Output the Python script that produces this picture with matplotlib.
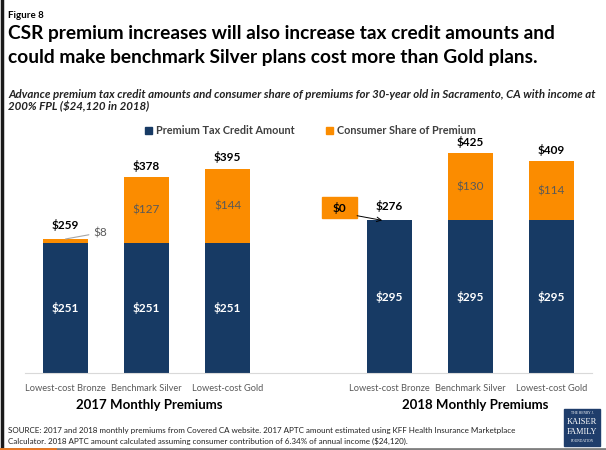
import matplotlib
matplotlib.use("Agg")
import matplotlib.pyplot as plt
from matplotlib.patches import Rectangle
from matplotlib.lines import Line2D

plt.rcParams['font.family'] = ['Lato', 'DejaVu Sans']

categories = ["Lowest-cost Bronze", "Benchmark Silver", "Lowest-cost Gold"]
years = ["2017 Monthly Premiums", "2018 Monthly Premiums"]
tax_credit_2017 = [251, 251, 251]
consumer_2017 = [8, 127, 144]
tax_credit_2018 = [295, 295, 295]
consumer_2018 = [0, 130, 114]
totals_2017 = [259, 378, 395]
totals_2018 = [276, 425, 409]

NAVY = "#173a64"
ORANGE = "#fb8c00"
W, H = 606, 450

fig = plt.figure(figsize=(6.06, 4.5), dpi=100)

def fx(px):
    return px / W

def fy(py):
    return 1 - py / H

# axes: x from px 25 to 592, y baseline px 373, top px 135
ax = fig.add_axes([fx(25), fy(373), fx(592) - fx(25), (373 - 135) / H])
ax.set_xlim(-0.5, 6.5)
ax.set_ylim(0, 460)

pos17 = [0, 1, 2]
pos18 = [4, 5, 6]
bw = 0.556
ax.bar(pos17, tax_credit_2017, width=bw, color=NAVY)
ax.bar(pos17, consumer_2017, width=bw, bottom=tax_credit_2017, color=ORANGE)
ax.bar(pos18, tax_credit_2018, width=bw, color=NAVY)
ax.bar(pos18, consumer_2018, width=bw, bottom=tax_credit_2018, color=ORANGE)

for spine in ["top", "right", "left"]:
    ax.spines[spine].set_visible(False)
ax.spines["bottom"].set_color("#d9d9d9")
ax.set_yticks([])
ax.set_xticks(pos17 + pos18)
ax.set_xticklabels(categories + categories, fontsize=6.7, color="#595959")
ax.tick_params(axis="x", length=0, pad=8)

for p, tc, cs, tot in zip(pos17 + pos18, tax_credit_2017 + tax_credit_2018,
                          consumer_2017 + consumer_2018, totals_2017 + totals_2018):
    ax.text(p, tc / 2, f"${tc}", ha="center", va="center", color="white",
            fontsize=8.5, fontweight="bold")
    if cs >= 50:
        ax.text(p, tc + cs / 2, f"${cs}", ha="center", va="center", color="#595959",
                fontsize=8.5)
    top = max(tot, tc)
    off = 28 if top == tc + cs and cs < 50 or tot < tc else 22
    ax.text(p, top + off, f"${tot}", ha="center", va="center", color="black",
            fontsize=8.5, fontweight="bold")

# $8 callout
ax.annotate(f"${consumer_2017[0]}", xy=(pos17[0], totals_2017[0]),
            xytext=(pos17[0] + 0.34, totals_2017[0] + 12), fontsize=8.5, color="#595959",
            va="center", ha="left",
            arrowprops=dict(arrowstyle="-", color="#a6a6a6", lw=0.8, shrinkA=1, shrinkB=0))

# $0 callout box
b0 = pos18[0]
t0 = tax_credit_2018[0]
ax.add_patch(Rectangle((b0 - 0.833, t0 + 4), 0.433, 41, color=ORANGE, clip_on=False))
ax.text(b0 - 0.6165, t0 + 24.5, f"${consumer_2018[0]}", fontsize=8.5, color="black",
        fontweight="bold", ha="center", va="center")
ax.annotate("", xy=(b0 - 0.09, t0), xytext=(b0 - 0.40, t0 + 9),
            arrowprops=dict(arrowstyle="->", color="black", lw=0.7, shrinkA=0, shrinkB=0,
                            mutation_scale=8))

# group labels
fig.text(fx(149), fy(405), years[0], ha="center", va="center", fontsize=9.5,
         fontweight="bold")
fig.text(fx(475), fy(405), years[1], ha="center", va="center", fontsize=9.5,
         fontweight="bold")

# titles
fig.text(fx(8), fy(15), "Figure 8", ha="left", va="center", fontsize=7, fontweight="bold")
fig.text(fx(8), fy(33), "CSR premium increases will also increase tax credit amounts and",
         ha="left", va="center", fontsize=13.8, fontweight="bold")
fig.text(fx(8), fy(58), "could make benchmark Silver plans cost more than Gold plans.",
         ha="left", va="center", fontsize=13.8, fontweight="bold")
fig.text(fx(8), fy(94), "Advance premium tax credit amounts and consumer share of premiums for 30-year old in Sacramento, CA with income at",
         ha="left", va="center", fontsize=8.25, style="italic", fontweight="bold", color="#222222")
fig.text(fx(8), fy(107), "200% FPL ($24,120 in 2018)",
         ha="left", va="center", fontsize=8.25, style="italic", fontweight="bold", color="#222222")

# legend
fig.patches.append(Rectangle((fx(145), fy(134)), fx(7), 7 / H, transform=fig.transFigure,
                             color=NAVY))
fig.text(fx(156), fy(130), "Premium Tax Credit Amount", ha="left", va="center",
         fontsize=7.8, fontweight="bold", color="#404040")
fig.patches.append(Rectangle((fx(326), fy(134)), fx(7), 7 / H, transform=fig.transFigure,
                             color=ORANGE))
fig.text(fx(337), fy(130), "Consumer Share of Premium", ha="left", va="center",
         fontsize=7.8, fontweight="bold", color="#404040")

# source
fig.text(fx(8), fy(430), "SOURCE: 2017 and 2018 monthly premiums from Covered CA website. 2017 APTC amount estimated using KFF Health Insurance Marketplace",
         ha="left", va="center", fontsize=5.8, color="#222222")
fig.text(fx(8), fy(441), "Calculator. 2018 APTC amount calculated assuming consumer contribution of 6.34% of annual income ($24,120).",
         ha="left", va="center", fontsize=5.8, color="#222222")

# logo
fig.patches.append(Rectangle((fx(564), fy(446)), fx(36), 37 / H, transform=fig.transFigure,
                             color="#1f3d6b"))
fig.text(fx(582), fy(413), "THE HENRY J.", ha="center", va="center", fontsize=2.6,
         color="white", family="Liberation Serif")
fig.text(fx(582), fy(421.5), "KAISER", ha="center", va="center", fontsize=6.0,
         color="white", family="Liberation Serif")
fig.text(fx(582), fy(431.5), "FAMILY", ha="center", va="center", fontsize=6.0,
         color="white", family="Liberation Serif")
fig.text(fx(582), fy(441), "FOUNDATION", ha="center", va="center", fontsize=2.6,
         color="white", family="Liberation Serif")

# frame lines
fig.add_artist(Line2D([fx(1.5), fx(1.5)], [0, 1], transform=fig.transFigure,
                      color="#1a1a1a", lw=2.5))
fig.add_artist(Line2D([0, 1], [fy(448.5), fy(448.5)], transform=fig.transFigure,
                      color="#7f7f7f", lw=2))
fig.add_artist(Line2D([0, fx(55)], [fy(448.5), fy(448.5)], transform=fig.transFigure,
                      color="#e87722", lw=2))

fig.savefig("out.png", dpi=100)
